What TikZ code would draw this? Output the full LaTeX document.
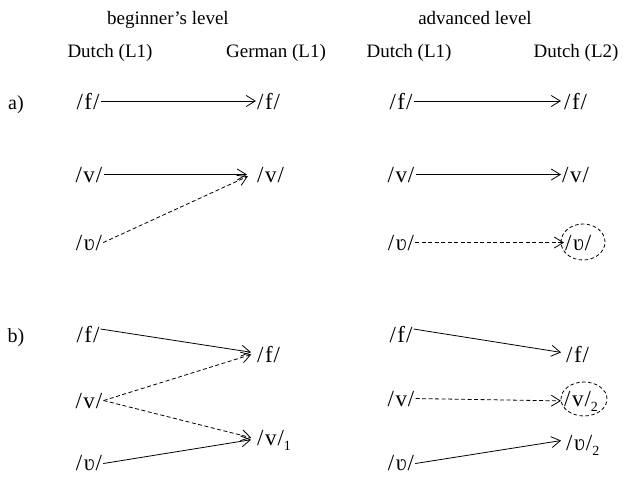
\documentclass[tikz,border=0pt]{standalone}
\usepackage{fontspec}
\setmainfont{Liberation Serif}
\usetikzlibrary{arrows.meta}
\tikzset{
  head/.style={font=\fontsize{19}{22}\selectfont, anchor=base, inner sep=0pt},
  rowlabel/.style={font=\fontsize{20}{24}\selectfont, anchor=base, inner sep=0pt},
  sym/.style={font=\fontsize{23}{27}\selectfont, anchor=base, inner sep=1pt},
  tsym/.style={sym, anchor=base west},
  link/.style={line width=0.8pt, -{Straight Barb[length=9pt,width=11pt,line width=0.8pt]}},
  dlink/.style={link, dash pattern=on 4pt off 2.5pt},
  ring/.style={line width=0.8pt, dash pattern=on 3.5pt off 2.5pt}
}
% phonemes between slashes, with a little air round the letter
\newcommand{\ph}[1]{/\kern1.5pt#1\kern1pt/}
\newcommand{\sub}[1]{\raisebox{-5pt}{\fontsize{14}{16}\selectfont #1}}
\begin{document}
\begin{tikzpicture}[x=1pt,y=-1pt]
\useasboundingbox (0,0) rectangle (623,479);

% column headings
\node[head] (hbeg) at (168,24) {beginner’s level};
\node[head] (hadv) at (475,24) {advanced level};
\node[head] (hd1)  at (110,57) {Dutch (L1)};
\node[head] (hg1)  at (276,57) {German (L1)};
\node[head] (hd2)  at (409,57) {Dutch (L1)};
\node[head] (hd3)  at (576,57) {Dutch (L2)};

% row labels
\node[rowlabel] (la) at (16,109) {a)};
\node[rowlabel] (lb) at (16,342) {b)};

% ---- a) beginner's level
\node[sym] (af1) at (88,109) {\ph{f}};
\node[sym] (av1) at (89,182) {\ph{v}};
\node[sym] (au1) at (89,250) {\ph{ʋ}};
\node[tsym] (af2) at (256,109) {\ph{f}};
\node[tsym] (av2) at (256,182) {\ph{v}};
\draw[link]  (af1.east) -- (af2.west);
\draw[link,shorten >=9pt] (av1.east) -- (av2.west);
\draw[dlink,shorten >=9pt] (au1.east) -- ([yshift=2pt]av2.west);

% ---- a) advanced level
\node[sym] (bf1) at (401,109) {\ph{f}};
\node[sym] (bv1) at (401,182) {\ph{v}};
\node[sym] (bu1) at (401,250) {\ph{ʋ}};
\node[tsym] (bf2) at (563,109) {\ph{f}};
\node[tsym] (bv2) at (561,182) {\ph{v}};
\node[tsym] (bu2) at (564,250) {\ph{ʋ}};
\draw[link,shorten >=2pt]  (bf1.east) -- (bf2.west);
\draw[link]  (bv1.east) -- (bv2.west);
\draw[dlink] (bu1.east) -- (bu2.west);
\draw[ring] (583,242) ellipse [x radius=22pt, y radius=18pt];

% ---- b) beginner's level
\node[sym] (cf1) at (88,342) {\ph{f}};
\node[sym] (cv1) at (89,408) {\ph{v}};
\node[sym] (cu1) at (89,470) {\ph{ʋ}};
\node[tsym] (cf2) at (256,362) {\ph{f}};
\node[tsym] (cv2) at (256,445) {\ph{v}\sub{1}};
\draw[link,shorten >=5pt]  ([yshift=5pt]cf1.east) -- ([yshift=1pt]cf2.west);
\draw[dlink,shorten >=5pt] (cv1.east) -- ([yshift=1pt]cf2.west);
\draw[dlink,shorten >=5pt] (cv1.east) -- ([yshift=1pt]cv2.west);
\draw[link,shorten >=5pt]  ([yshift=-1pt]cu1.east) -- ([yshift=1pt]cv2.west);

% ---- b) advanced level
\node[sym] (df1) at (401,342) {\ph{f}};
\node[sym] (dv1) at (401,406) {\ph{v}};
\node[sym] (du1) at (401,470) {\ph{ʋ}};
\node[tsym] (df2) at (565,362) {\ph{f}};
\node[tsym] (dv2) at (563,406) {\ph{v}\sub{2}};
\node[tsym] (du2) at (565,450) {\ph{ʋ}\sub{2}};
\draw[link,shorten >=4pt]  ([yshift=5pt]df1.east) -- ([yshift=1pt]df2.west);
\draw[dlink,shorten >=2pt] (dv1.east) -- (dv2.west);
\draw[link,shorten >=4pt]  ([yshift=-1pt]du1.east) -- ([yshift=5pt]du2.west);
\draw[ring] (584,399) ellipse [x radius=23pt, y radius=17pt];
\end{tikzpicture}
\end{document}
